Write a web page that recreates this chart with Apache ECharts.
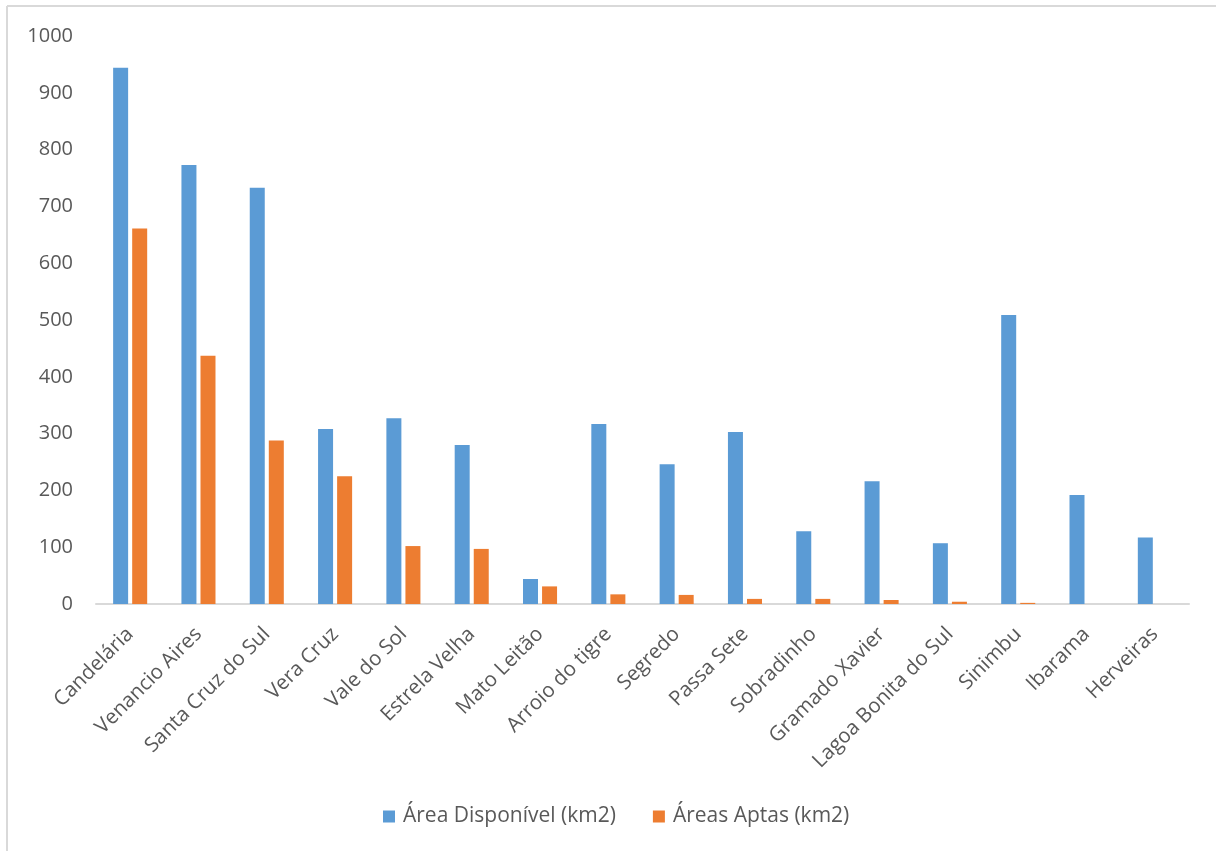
<!DOCTYPE html>
<html>
<head>
<meta charset="utf-8">
<script src="https://cdn.jsdelivr.net/npm/echarts@6/dist/echarts.min.js"></script>
<style>html,body{margin:0;padding:0;background:#fff}#c{width:1216px;height:851px}</style>
</head>
<body>
<div id="c"></div>
<script>
const categories = ["Candelária","Venancio Aires","Santa Cruz do Sul","Vera Cruz","Vale do Sol","Estrela Velha","Mato Leitão","Arroio do tigre","Segredo","Passa Sete","Sobradinho","Gramado Xavier","Lagoa Bonita do Sul","Sinimbu","Ibarama","Herveiras"];
const areaDisponivel = [944, 773, 733, 308, 327, 280, 44, 317, 246, 303, 128, 216, 107, 509, 192, 117];
const areasAptas = [661, 437, 288, 225, 102, 97, 31, 17, 16, 9, 9, 7, 4, 2, 0, 0];
const seriesNames = ["Área Disponível (km2)", "Áreas Aptas (km2)"];

const chart = echarts.init(document.getElementById('c'), null, {renderer: 'canvas'});
const font = '"Open Sans", sans-serif';
chart.setOption({
  animation: false,
  backgroundColor: '#fff',
  color: ['#5B9BD5', '#ED7D31'],
  grid: {left: 96, right: 27, top: 36, bottom: 247, containLabel: false},
  legend: {
    bottom: 19, left: 378,
    itemWidth: 12, itemHeight: 12, itemGap: 37,
    icon: 'rect',
    textStyle: {fontFamily: font, fontSize: 21, color: '#595959', padding: [0, 0, 0, 3]},
    data: seriesNames
  },
  xAxis: {
    type: 'category', data: categories,
    axisLine: {lineStyle: {color: '#d9d9d9', width: 2}},
    axisTick: {show: false},
    axisLabel: {rotate: 45, interval: 0, margin: 27, fontFamily: font, fontSize: 20.5, color: '#595959'}
  },
  yAxis: {
    type: 'value', min: 0, max: 1000, interval: 100,
    axisLine: {show: false}, axisTick: {show: false},
    splitLine: {show: false},
    axisLabel: {margin: 23, fontFamily: font, fontSize: 20, color: '#595959', formatter: function (v) { return String(v); }}
  },
  graphic: [
    {type: 'line', shape: {x1: 7, y1: 6, x2: 1216, y2: 6}, style: {stroke: '#d9d9d9', lineWidth: 2}},
    {type: 'line', shape: {x1: 7, y1: 6, x2: 7, y2: 851}, style: {stroke: '#d9d9d9', lineWidth: 2}}
  ],
  series: [
    {name: seriesNames[0], type: 'bar', data: areaDisponivel, barWidth: 15, barGap: '27%'},
    {name: seriesNames[1], type: 'bar', data: areasAptas, barWidth: 15, barGap: '27%'}
  ]
});
</script>
</body>
</html>
